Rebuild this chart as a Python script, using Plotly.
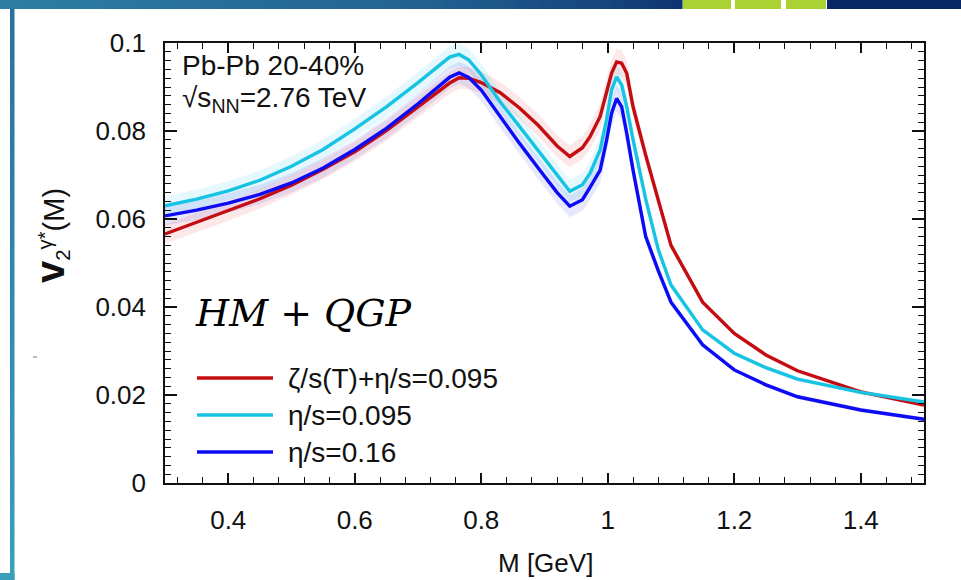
import plotly.graph_objects as go

# ---------------- data ----------------
M = [0.30, 0.35, 0.40, 0.45, 0.50, 0.55, 0.60, 0.65, 0.70, 0.73, 0.75, 0.765,
     0.78, 0.80, 0.83, 0.86, 0.89, 0.92, 0.94, 0.96, 0.972, 0.988, 0.998,
     1.006, 1.014, 1.022, 1.03, 1.04, 1.06, 1.08, 1.10, 1.15, 1.20, 1.25,
     1.30, 1.40, 1.50]

v2_bulk_eta095 = [0.0566, 0.0592, 0.0618, 0.0646, 0.0677, 0.0713, 0.0753, 0.0801,
                  0.0855, 0.0888, 0.0909, 0.0921, 0.0920, 0.0910, 0.0887, 0.0853,
                  0.0813, 0.0766, 0.0742, 0.0762, 0.0787, 0.0833, 0.0886, 0.0931,
                  0.0957, 0.0954, 0.0931, 0.0855, 0.0745, 0.0640, 0.0540, 0.0411,
                  0.0340, 0.0291, 0.0255, 0.0207, 0.0177]

v2_eta095 = [0.0630, 0.0645, 0.0664, 0.0688, 0.0720, 0.0758, 0.0805, 0.0855,
             0.0910, 0.0945, 0.0968, 0.0974, 0.0962, 0.0928, 0.0866, 0.0811,
             0.0756, 0.0699, 0.0663, 0.0678, 0.0704, 0.0757, 0.0825, 0.0893,
             0.0923, 0.0905, 0.0855, 0.0780, 0.0645, 0.0530, 0.0450, 0.0348,
             0.0295, 0.0262, 0.0236, 0.0206, 0.0184]

v2_eta016 = [0.0607, 0.0620, 0.0636, 0.0656, 0.0682, 0.0716, 0.0758, 0.0806,
             0.0862, 0.0898, 0.0922, 0.0932, 0.0922, 0.0893, 0.0832, 0.0773,
             0.0716, 0.0660, 0.0629, 0.0644, 0.0672, 0.0711, 0.0778, 0.0840,
             0.0874, 0.0855, 0.0795, 0.0711, 0.0560, 0.0482, 0.0411, 0.0314,
             0.0257, 0.0223, 0.0196, 0.0166, 0.0145]

band_halfwidth = [0.0022, 0.0022, 0.0022, 0.0022, 0.0022, 0.0022, 0.0022, 0.0023,
                  0.0024, 0.0025, 0.0025, 0.0025, 0.0025, 0.0025, 0.0025, 0.0025,
                  0.0025, 0.0025, 0.0025, 0.0026, 0.0028, 0.0030, 0.0030, 0.0030,
                  0.0030, 0.0030, 0.0028, 0.0022, 0.0016, 0.0012, 0.0010, 0.0006,
                  0.0005, 0.0005, 0.0005, 0.0005, 0.0005]

series_names = ["ζ/s(T)+η/s=0.095", "η/s=0.095", "η/s=0.16"]
series_values = [v2_bulk_eta095, v2_eta095, v2_eta016]

x_ticks = [0.4, 0.6, 0.8, 1.0, 1.2, 1.4]
x_ticktext = ["0.4", "0.6", "0.8", "1", "1.2", "1.4"]
y_ticks = [0, 0.02, 0.04, 0.06, 0.08, 0.1]
y_ticktext = ["0", "0.02", "0.04", "0.06", "0.08", "0.1"]

# ---------------- styles ----------------
line_colors = ["#c40d12", "#17c3e2", "#0b0bf5"]
band_colors = ["rgba(225,50,50,0.11)", "rgba(40,200,235,0.12)", "rgba(50,50,230,0.11)"]
FONT = "Liberation Sans, Arial, sans-serif"

W, H = 961, 580
L, R, T, B = 165, 37, 43, 97
PW, PH = W - L - R, H - T - B


def px(xp):
    return (xp - L) / PW


def py(yp):
    return (H - B - yp) / PH


fig = go.Figure()

# uncertainty bands
for vals, bc in zip(series_values, band_colors):
    upper = [v + e for v, e in zip(vals, band_halfwidth)]
    lower = [v - e for v, e in zip(vals, band_halfwidth)]
    fig.add_trace(go.Scatter(
        x=M + M[::-1], y=upper + lower[::-1], fill="toself", fillcolor=bc,
        line=dict(width=0), mode="lines", hoverinfo="skip", showlegend=False))

# central lines
for vals, name, lc in zip(series_values, series_names, line_colors):
    fig.add_trace(go.Scatter(x=M, y=vals, mode="lines", name=name,
                             line=dict(color=lc, width=3.4), showlegend=False))

shapes = []
annotations = []

# ---- slide decoration (top bar gradient, green squares, left bar) ----
def lerp(c1, c2, t):
    return tuple(int(round(a + (b - a) * t)) for a, b in zip(c1, c2))

stops = [(0, (44, 126, 163)), (420, (34, 98, 145)), (600, (22, 70, 124)),
         (682, (14, 52, 112)), (961, (10, 38, 100))]


def grad_color(x):
    for (x0, c0), (x1, c1) in zip(stops[:-1], stops[1:]):
        if x0 <= x <= x1:
            return lerp(c0, c1, (x - x0) / (x1 - x0))
    return stops[-1][1]


BAR_H = 9
seg = 12
x0 = 0
while x0 < 682:
    x1 = min(x0 + seg, 682)
    c = grad_color((x0 + x1) / 2)
    shapes.append(dict(type="rect", xref="paper", yref="paper",
                       x0=px(x0), x1=px(x1 + 0.6), y0=py(BAR_H), y1=py(0),
                       fillcolor="rgb(%d,%d,%d)" % c, line=dict(width=0), layer="above"))
    x0 = x1
shapes.append(dict(type="rect", xref="paper", yref="paper",
                   x0=px(827), x1=px(961), y0=py(BAR_H), y1=py(0),
                   fillcolor="rgb(10,39,102)", line=dict(width=0), layer="above"))
for gx0, gx1 in [(683, 731), (735, 781), (786, 826)]:
    shapes.append(dict(type="rect", xref="paper", yref="paper",
                       x0=px(gx0), x1=px(gx1), y0=py(BAR_H), y1=py(0),
                       fillcolor="rgb(170,210,50)", line=dict(width=0), layer="above"))

# left vertical bar
nseg = 24
for i in range(nseg):
    y0p = BAR_H + (H - BAR_H) * i / nseg
    y1p = BAR_H + (H - BAR_H) * (i + 1) / nseg
    c = lerp((40, 114, 156), (58, 160, 186), (i + 0.5) / nseg)
    shapes.append(dict(type="rect", xref="paper", yref="paper",
                       x0=px(10), x1=px(14.5), y0=py(y1p + 0.6), y1=py(y0p),
                       fillcolor="rgb(%d,%d,%d)" % c, line=dict(width=0), layer="above"))
shapes.append(dict(type="rect", xref="paper", yref="paper",
                   x0=px(0), x1=px(14.5), y0=py(H), y1=py(573),
                   fillcolor="rgb(58,160,186)", line=dict(width=0), layer="above"))
# tiny stray dash
shapes.append(dict(type="line", xref="paper", yref="paper",
                   x0=px(33), x1=px(37), y0=py(357), y1=py(357),
                   line=dict(color="#777777", width=1)))

# ---- manual legend ----
leg_y = [378, 415, 452]
for name, lc, yy in zip(series_names, line_colors, leg_y):
    shapes.append(dict(type="line", xref="paper", yref="paper",
                       x0=px(197), x1=px(273), y0=py(yy), y1=py(yy),
                       line=dict(color=lc, width=3.4)))
    annotations.append(dict(xref="paper", yref="paper", x=px(286), y=py(yy),
                            xanchor="left", yanchor="middle", showarrow=False,
                            text=name, font=dict(family=FONT, size=28, color="#111111")))

# ---- text annotations ----
annotations.append(dict(xref="paper", yref="paper", x=px(180), y=py(66),
                        xanchor="left", yanchor="middle", showarrow=False,
                        text="Pb-Pb 20-40%", font=dict(family=FONT, size=28, color="#111111")))
annotations.append(dict(xref="paper", yref="paper", x=px(180), y=py(99),
                        xanchor="left", yanchor="middle", showarrow=False,
                        text="√s<sub>NN</sub>=2.76 TeV",
                        font=dict(family=FONT, size=28, color="#111111")))
annotations.append(dict(xref="paper", yref="paper", x=px(193), y=py(313),
                        xanchor="left", yanchor="middle", showarrow=False,
                        text="<i>HM</i> + <i>QGP</i>",
                        font=dict(family="DejaVu Serif, Liberation Serif, serif", size=38, color="#000000")))
annotations.append(dict(xref="paper", yref="paper", x=px(51), y=py(236),
                        xanchor="center", yanchor="middle", showarrow=False, textangle=-90,
                        text="<span style='font-size:40px'><b>v</b></span><sub>2</sub><sup>γ*</sup>(M)",
                        font=dict(family=FONT, size=29, color="#111111")))
annotations.append(dict(xref="paper", yref="paper", x=px(545), y=py(563),
                        xanchor="center", yanchor="middle", showarrow=False,
                        text="M [GeV]", font=dict(family=FONT, size=26, color="#111111")))

axis_common = dict(showline=True, linecolor="#111111", linewidth=1.6, mirror="ticks",
                   ticks="inside", tickcolor="#111111", tickwidth=1.6,
                   showgrid=False, zeroline=False,
                   tickfont=dict(family=FONT, size=26, color="#111111"))

fig.update_layout(
    width=W, height=H,
    margin=dict(l=L, r=R, t=T, b=B, pad=0),
    paper_bgcolor="white", plot_bgcolor="white",
    xaxis=dict(range=[0.3, 1.5], tickvals=x_ticks, ticktext=x_ticktext,
               ticklen=10, ticklabelstandoff=13,
               minor=dict(ticks="inside", ticklen=6, dtick=0.04, tick0=0.4,
                          tickcolor="#111111", tickwidth=1.3),
               **axis_common),
    yaxis=dict(range=[0, 0.1], tickvals=y_ticks, ticktext=y_ticktext,
               ticklen=12, ticklabelstandoff=12,
               minor=dict(ticks="inside", ticklen=6, dtick=0.002, tick0=0,
                          tickcolor="#111111", tickwidth=1.3),
               **axis_common),
    shapes=shapes, annotations=annotations,
    showlegend=False,
)

fig.write_html("out.html")
